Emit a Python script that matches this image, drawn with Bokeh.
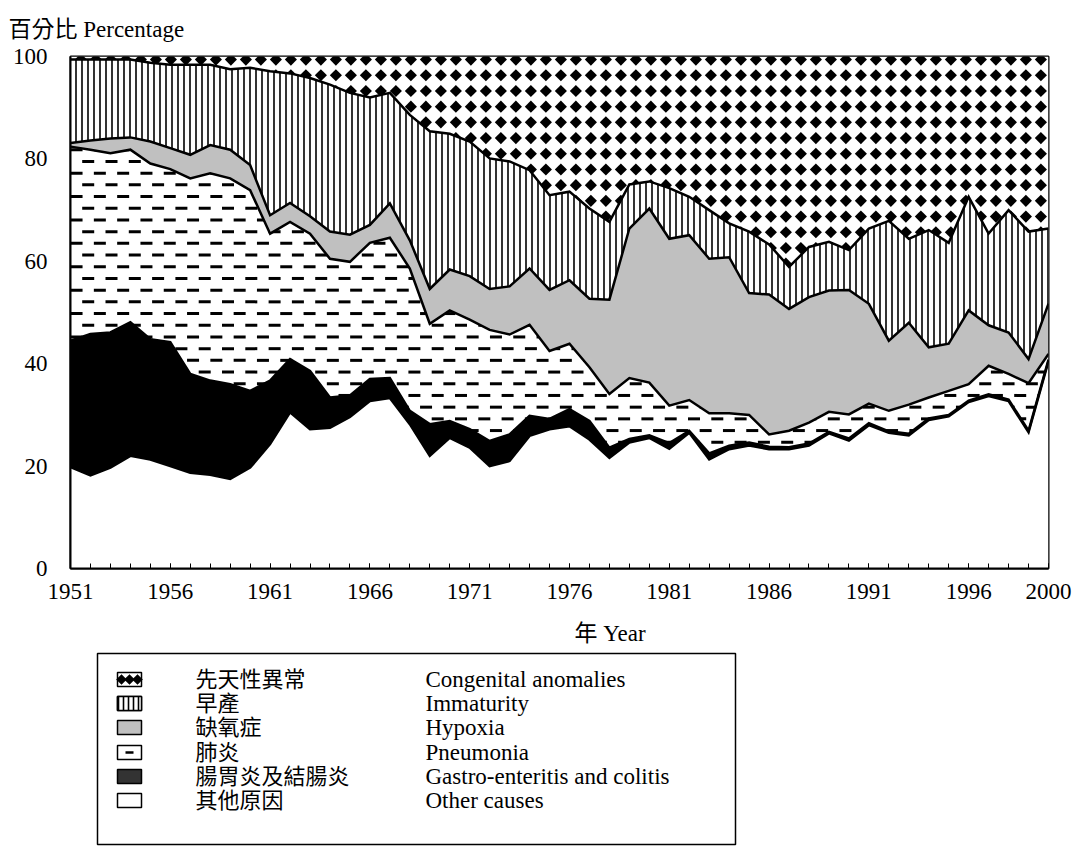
import numpy as np
from bokeh.plotting import figure
from bokeh.models import ColumnDataSource, Range1d, FixedTicker, Title
from bokeh.layouts import column
from bokeh.embed import file_html
from bokeh.resources import INLINE
from bokeh.core.properties import value

# ---------------- data ----------------
years = list(range(1951, 2001))
other_causes = [19.8, 18.2, 19.7, 22.0, 21.3, 20.0, 18.7, 18.3, 17.5, 19.7,
                24.3, 30.5, 27.2, 27.5, 29.6, 32.7, 33.3, 28.2, 22.0, 25.5,
                23.6, 20.0, 21.0, 25.9, 27.2, 27.8, 25.2, 21.6, 24.6, 25.5,
                23.4, 26.5, 21.3, 23.3, 24.0, 23.3, 23.3, 24.0, 26.4, 25.0,
                28.0, 26.5, 26.0, 29.0, 29.7, 32.5, 33.7, 32.7, 26.6, 40.5]
gastro_enteritis = [24.7, 27.6, 26.4, 26.1, 23.5, 24.2, 19.3, 18.4, 18.5, 15.0,
                    12.4, 10.4, 11.4, 5.9, 4.2, 4.3, 3.9, 2.6, 6.2, 3.3,
                    3.6, 4.9, 5.2, 3.9, 2.0, 3.3, 3.6, 2.0, 0.7, 0.5,
                    1.1, 0.4, 1.2, 0.7, 0.6, 0.5, 0.4, 0.4, 0.3, 0.4,
                    0.4, 0.3, 0.3, 0.3, 0.3, 0.3, 0.3, 0.3, 0.3, 0.3]
pneumonia = [37.9, 36.0, 35.0, 33.7, 34.3, 33.8, 38.2, 40.5, 40.2, 39.2,
             28.7, 26.8, 26.8, 27.1, 26.1, 26.6, 27.4, 27.8, 19.6, 21.6,
             21.4, 21.7, 19.5, 17.8, 13.3, 12.8, 10.5, 10.5, 11.9, 10.3,
             7.3, 6.0, 7.8, 6.3, 5.4, 2.4, 3.2, 4.1, 3.9, 4.7,
             3.8, 4.0, 5.7, 4.1, 4.7, 3.2, 5.6, 5.0, 9.3, 1.1]
hypoxia = [0.7, 1.8, 2.9, 2.4, 4.3, 4.1, 4.6, 5.5, 5.6, 4.9,
           3.6, 3.7, 3.4, 5.3, 5.3, 3.5, 6.7, 5.5, 6.8, 8.0,
           8.5, 8.0, 9.4, 11.0, 11.9, 12.4, 13.4, 18.4, 29.2, 34.0,
           32.6, 32.2, 30.2, 30.5, 23.8, 27.3, 23.8, 24.5, 23.7, 24.3,
           19.5, 13.7, 16.0, 9.8, 9.2, 14.4, 7.9, 8.1, 4.7, 9.8]
immaturity = [16.3, 15.8, 15.4, 15.2, 15.4, 16.3, 17.6, 15.7, 15.7, 19.0,
              28.1, 25.3, 27.0, 28.7, 27.7, 24.9, 21.6, 24.5, 30.8, 26.5,
              26.3, 25.5, 24.4, 19.2, 18.5, 17.3, 17.6, 15.2, 8.6, 5.3,
              9.9, 7.5, 9.5, 6.6, 12.0, 9.8, 8.2, 9.8, 9.5, 7.8,
              14.7, 23.4, 16.4, 22.9, 19.7, 22.2, 17.9, 23.9, 24.9, 14.7]
congenital = [0.6, 0.6, 0.6, 0.6, 1.2, 1.6, 1.6, 1.6, 2.5, 2.2,
              2.9, 3.3, 4.2, 5.5, 7.1, 8.0, 7.1, 11.4, 14.6, 15.1,
              16.6, 19.9, 20.5, 22.2, 27.1, 26.4, 29.7, 32.3, 25.0, 24.4,
              25.7, 27.4, 30.0, 32.6, 34.2, 36.7, 41.1, 37.2, 36.2, 37.8,
              33.6, 32.1, 35.6, 33.9, 36.4, 27.4, 34.6, 30.0, 34.2, 33.6]

x_tick_years = [1951, 1956, 1961, 1966, 1971, 1976, 1981, 1986, 1991, 1996, 2000]
y_tick_values = [0, 20, 40, 60, 80, 100]

legend_cn = ["先天性異常", "早產", "缺氧症", "肺炎", "腸胃炎及結腸炎", "其他原因"]
legend_en = ["Congenital anomalies", "Immaturity", "Hypoxia", "Pneumonia",
             "Gastro-enteritis and colitis", "Other causes"]

y_title = "百分比 Percentage"
x_title = "年 Year"

# ---------------- layout constants ----------------
SERIF = "'Liberation Serif', 'Times New Roman', 'Noto Sans CJK TC'"
CJK = "'Noto Sans CJK TC'"
FRAME_L, FRAME_T = 70, 55
FRAME_W, FRAME_H = 978, 512
BORDER_R = 25
MAIN_H = 612
PX_YEAR = FRAME_W / (years[-1] - years[0])
PX_UNIT = FRAME_H / 100.0

layers = np.array([other_causes, gastro_enteritis, pneumonia, hypoxia, immaturity, congenital], dtype=float)
cum = np.cumsum(layers, axis=0)
zero = np.zeros(len(years))
yrs = np.array(years, dtype=float)

src = ColumnDataSource(dict(
    year=years,
    b0=zero, b1=cum[0], b2=cum[1], b3=cum[2], b4=cum[3], b5=cum[4], b6=cum[5],
))

p = figure(frame_width=FRAME_W, frame_height=FRAME_H,
           x_range=Range1d(years[0], years[-1]), y_range=Range1d(0, 100),
           output_backend="svg", toolbar_location=None,
           min_border_left=FRAME_L, min_border_right=BORDER_R, min_border_top=FRAME_T,
           min_border_bottom=MAIN_H - FRAME_T - FRAME_H)
p.xgrid.visible = False
p.ygrid.visible = False
p.outline_line_color = "black"
p.outline_line_width = 2
p.background_fill_color = "white"

# 1. congenital background + diamond texture
p.varea(x="year", y1="b5", y2="b6", source=src, fill_color="white")
dx = 15.0 / PX_YEAR
dy = 15.7 / PX_UNIT
gx = years[0] + 0.52 + dx * np.arange(0, 70)
gx = gx[gx < years[-1] + 0.5]
gy = 99.4 - dy * np.arange(0, 35)
dxs, dys = [], []
hw = 6.5 / PX_YEAR
for yv in gy:
    for xv in gx:
        lo = min(np.interp(xv - hw, yrs, cum[4]), np.interp(xv, yrs, cum[4]), np.interp(xv + hw, yrs, cum[4]))
        if yv + 1.4 > lo:
            dxs.append(xv); dys.append(yv)
p.scatter(dxs, dys, marker="square", angle=np.pi / 4, size=8.6,
          fill_color="black", line_color=None)

# 2. pneumonia background + dash texture
p.varea(x="year", y1="b2", y2="b3", source=src, fill_color="white")
rdy = 11.7 / PX_UNIT
pdx = 23.3 / PX_YEAR
hx = 6.0 / PX_YEAR
pxs, pys = [], []
for k in range(-4, 40):
    yv = 79.5 + 2 * rdy - rdy * k
    if yv <= 0:
        continue
    off = 0.0 if k % 2 == 0 else pdx / 2
    xs = years[0] + 17.7 / PX_YEAR + off + pdx * np.arange(-2, 45)
    for xv in xs:
        if xv < years[0] - 0.5 or xv > years[-1] + 0.5:
            continue
        lo = min(np.interp(xv - hx, yrs, cum[1]), np.interp(xv + hx, yrs, cum[1]))
        hi = max(np.interp(xv - hx, yrs, cum[2]), np.interp(xv + hx, yrs, cum[2]))
        if lo - 0.4 < yv < hi + 0.4:
            pxs.append(xv); pys.append(yv)
p.scatter(pxs, pys, marker="dash", size=12, line_color="black", line_width=3)

# 3. remaining layers (drawn over texture spill)
p.varea(x="year", y1="b3", y2="b4", source=src, fill_color="#c0c0c0")
p.varea(x="year", y1="b4", y2="b5", source=src, fill_color="white",
        hatch_pattern="vertical_line", hatch_scale=6, hatch_weight=1.6, hatch_color="black")
p.varea(x="year", y1="b1", y2="b2", source=src, fill_color="black")
p.varea(x="year", y1="b0", y2="b1", source=src, fill_color="white")

# 4. boundary lines
for col in ["b1", "b2", "b3", "b4", "b5"]:
    p.line(x="year", y=col, source=src, line_color="black", line_width=2.5, line_join="miter")

# axes
p.xaxis.ticker = FixedTicker(ticks=x_tick_years, minor_ticks=years)
p.yaxis.ticker = FixedTicker(ticks=y_tick_values)
for ax in (p.xaxis, p.yaxis):
    ax.axis_line_color = "black"
    ax.axis_line_width = 2
    ax.major_label_text_font = SERIF
    ax.major_label_text_font_size = "23px"
    ax.major_label_text_color = "black"
    ax.major_tick_line_color = "black"
    ax.minor_tick_line_color = "black"
p.xaxis.major_tick_in = 5
p.xaxis.major_tick_out = 0
p.xaxis.minor_tick_in = 5
p.xaxis.minor_tick_out = 0
p.xaxis.major_label_standoff = 15
p.yaxis.major_tick_in = 0
p.yaxis.major_tick_out = 0
p.yaxis.minor_tick_in = 0
p.yaxis.minor_tick_out = 0
p.yaxis.major_label_standoff = 23

p.add_layout(Title(text=y_title, align="left", offset=-62, standoff=29,
                   text_font=SERIF, text_font_size="23px", text_font_style="normal",
                   text_color="black"), "above")

# ---------------- lower figure: x title + legend ----------------
LEG_TOP = MAIN_H
lg = figure(frame_width=FRAME_W, frame_height=848 - LEG_TOP,
            x_range=Range1d(FRAME_L, FRAME_L + FRAME_W), y_range=Range1d(848, LEG_TOP),
            output_backend="svg", toolbar_location=None,
            min_border_left=FRAME_L, min_border_right=BORDER_R, min_border_top=0, min_border_bottom=0)
lg.axis.visible = False
lg.xgrid.visible = False
lg.ygrid.visible = False
lg.outline_line_color = None

lg.text(x=[574], y=[632], text=[x_title], text_font=value(SERIF), text_font_size="23px",
        text_baseline="middle", text_align="left", text_color="black")

row_y = [678, 702, 726, 751, 775, 799]
lg.quad(left=[97], right=[735], top=[652], bottom=[843], fill_color=None, line_color="black", line_width=1.5)

sw_x, sw_w, sw_h = 129, 24, 14
lg.rect(x=[sw_x] * 6, y=row_y, width=sw_w, height=sw_h,
        fill_color=["white", "white", "#c0c0c0", "white", "#333333", "white"],
        line_color="black", line_width=1.5)
lg.rect(x=[sw_x], y=[row_y[1]], width=sw_w, height=sw_h, fill_color="white",
        hatch_pattern="vertical_line", hatch_scale=5, hatch_weight=1.6, hatch_color="black",
        line_color="black", line_width=1.5)
lg.scatter(x=[sw_x - 8, sw_x, sw_x + 8], y=[row_y[0]] * 3, marker="square", angle=np.pi / 4,
           size=7.5, fill_color="black", line_color=None)
lg.scatter(x=[sw_x], y=[row_y[3]], marker="dash", size=8, line_color="black", line_width=2.5)

lg.text(x=[195] * 6, y=row_y, text=legend_cn, text_font=value(CJK), text_font_size="22px",
        text_baseline="middle", text_color="black", y_offset=-3)
lg.text(x=[425] * 6, y=row_y, text=legend_en, text_font=value(SERIF), text_font_size="23px",
        text_baseline="middle", text_color="black")

layout = column(p, lg, spacing=0)
open("out.html", "w").write(file_html(layout, INLINE))
